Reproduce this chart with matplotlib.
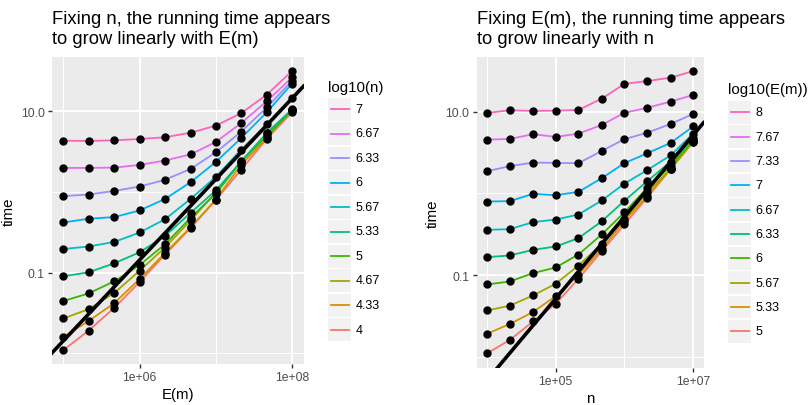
import numpy as np
import matplotlib
matplotlib.use('Agg')
import matplotlib.pyplot as plt
from matplotlib.patches import Rectangle
from matplotlib.lines import Line2D
from matplotlib.ticker import FixedLocator, FixedFormatter, NullFormatter

plt.rcParams['font.family'] = ['Liberation Sans', 'DejaVu Sans']

# log10 of the grid sizes
log_n = [4, 4.33, 4.67, 5, 5.33, 5.67, 6, 6.33, 6.67, 7]
log_em = [5, 5.33, 5.67, 6, 6.33, 6.67, 7, 7.33, 7.67, 8]
n_labels = ['4', '4.33', '4.67', '5', '5.33', '5.67', '6', '6.33', '6.67', '7']
em_labels = ['5', '5.33', '5.67', '6', '6.33', '6.67', '7', '7.33', '7.67', '8']

# log10(time): one row per n, one column per E(m)
log_time = [
    [-1.958, -1.718, -1.433, -1.115, -0.780, -0.446, -0.100, 0.271, 0.658, 0.984],
    [-1.795, -1.599, -1.375, -1.078, -0.760, -0.438, -0.095, 0.333, 0.666, 1.017],
    [-1.567, -1.452, -1.249, -0.976, -0.691, -0.352, -0.006, 0.377, 0.724, 1.009],
    [-1.351, -1.257, -1.106, -0.907, -0.650, -0.320, -0.022, 0.373, 0.691, 1.012],
    [-1.045, -0.996, -0.883, -0.748, -0.548, -0.259, 0.018, 0.369, 0.731, 1.021],
    [-0.707, -0.677, -0.619, -0.503, -0.341, -0.087, 0.186, 0.520, 0.837, 1.159],
    [-0.379, -0.333, -0.312, -0.230, -0.090, 0.120, 0.370, 0.663, 0.986, 1.340],
    [-0.053, -0.033, 0.012, 0.066, 0.148, 0.284, 0.490, 0.742, 1.047, 1.374],
    [0.296, 0.296, 0.300, 0.333, 0.387, 0.464, 0.617, 0.849, 1.123, 1.416],
    [0.633, 0.630, 0.638, 0.654, 0.675, 0.732, 0.819, 0.972, 1.204, 1.496],
]

# reference lines of slope 1 on log-log: log10(time) = log10(x) + intercept
left_intercept = -6.843
right_intercept = -6.286

colors = ['#F8766D', '#D89000', '#A3A500', '#39B600', '#00BF7D',
          '#00BFC4', '#00B0F6', '#9590FF', '#E76BF3', '#FF62BC']

W, H = 810, 406
fig = plt.figure(figsize=(W / 100, H / 100), dpi=100)


def px_axes(l, t, r, b):
    return fig.add_axes([l / W, 1 - b / H, (r - l) / W, (b - t) / H])


def expand(lo, hi, f=0.05):
    d = (hi - lo) * f
    return lo - d, hi + d


def draw_panel(ax, log_x, lines, intercept, xticks, xlabels, xminor, xlabel, title):
    lt = np.array(log_time)
    ax.set_facecolor('#EBEBEB')
    for s in ax.spines.values():
        s.set_visible(False)
    ax.set_xscale('log')
    ax.set_yscale('log')
    x0, x1 = expand(min(log_x), max(log_x))
    y0, y1 = expand(lt.min(), lt.max())
    ax.set_xlim(10 ** x0, 10 ** x1)
    ax.set_ylim(10 ** y0, 10 ** y1)

    x = 10 ** np.array(log_x)
    for i, row in enumerate(lines):
        ax.plot(x, 10 ** np.array(row), color=colors[i], lw=1.3, zorder=2)
    xs = np.array([10 ** x0, 10 ** x1])
    ax.plot(xs, xs * 10 ** intercept, color='black', lw=2.6, zorder=3,
            scalex=False, scaley=False)
    for row in lines:
        ax.plot(x, 10 ** np.array(row), 'o', color='black', ms=5, zorder=4)

    ax.xaxis.set_major_locator(FixedLocator(xticks))
    ax.xaxis.set_major_formatter(FixedFormatter(xlabels))
    ax.xaxis.set_minor_locator(FixedLocator(xminor))
    ax.xaxis.set_minor_formatter(NullFormatter())
    ax.yaxis.set_major_locator(FixedLocator([0.1, 10]))
    ax.yaxis.set_major_formatter(FixedFormatter(['0.1', '10.0']))
    ax.yaxis.set_minor_locator(FixedLocator([0.01, 1]))
    ax.yaxis.set_minor_formatter(NullFormatter())
    ax.grid(which='major', color='white', lw=1.4)
    ax.grid(which='minor', color='white', lw=0.7)
    ax.set_axisbelow(True)
    ax.tick_params(which='major', length=3, width=1.0, color='#333333',
                   labelcolor='#4D4D4D', labelsize=8.8, pad=2.2)
    ax.tick_params(which='minor', length=0)
    ax.set_xlabel(xlabel, fontsize=10.8, labelpad=3)
    ax.set_ylabel('time', fontsize=10.8, labelpad=4)
    ax.set_title(title, loc='left', fontsize=13.2, pad=10, linespacing=1.22)


def draw_legend(title, labels, x0, title_y, first_y, step, key_w=23):
    fig.text(x0 / W, 1 - title_y / H, title, fontsize=10.8, va='center', ha='left')
    order = list(range(len(labels)))[::-1]
    for k, i in enumerate(order):
        yc = first_y + k * step
        kh = step - 1.5
        fig.add_artist(Rectangle((x0 / W, 1 - (yc + kh / 2) / H), key_w / W, kh / H,
                                 transform=fig.transFigure, facecolor='#F2F2F2',
                                 edgecolor='none'))
        fig.add_artist(Line2D([(x0 + 2.5) / W, (x0 + key_w - 2.5) / W], [1 - yc / H] * 2,
                              color=colors[i], lw=1.3, transform=fig.transFigure))
        fig.text((x0 + key_w + 4.5) / W, 1 - yc / H, labels[i], fontsize=9.0,
                 va='center', ha='left')


ax1 = px_axes(52, 58, 303.5, 365)
draw_panel(ax1, log_em, log_time, left_intercept,
           [1e6, 1e8], ['1e+06', '1e+08'], [1e5, 1e7], 'E(m)',
           'Fixing n, the running time appears\nto grow linearly with E(m)')

ax2 = px_axes(476.7, 58, 703.5, 368.5)
cols = [list(c) for c in zip(*log_time)]
draw_panel(ax2, log_n, cols, right_intercept,
           [1e5, 1e7], ['1e+05', '1e+07'], [1e4, 1e6], 'n',
           'Fixing E(m), the running time appears\nto grow linearly with n')

draw_legend('log10(n)', n_labels, 328.3, 88, 110, 24.5)
draw_legend('log10(E(m))', em_labels, 728, 90, 113.3, 24.33)

fig.savefig('out.png', dpi=100)
